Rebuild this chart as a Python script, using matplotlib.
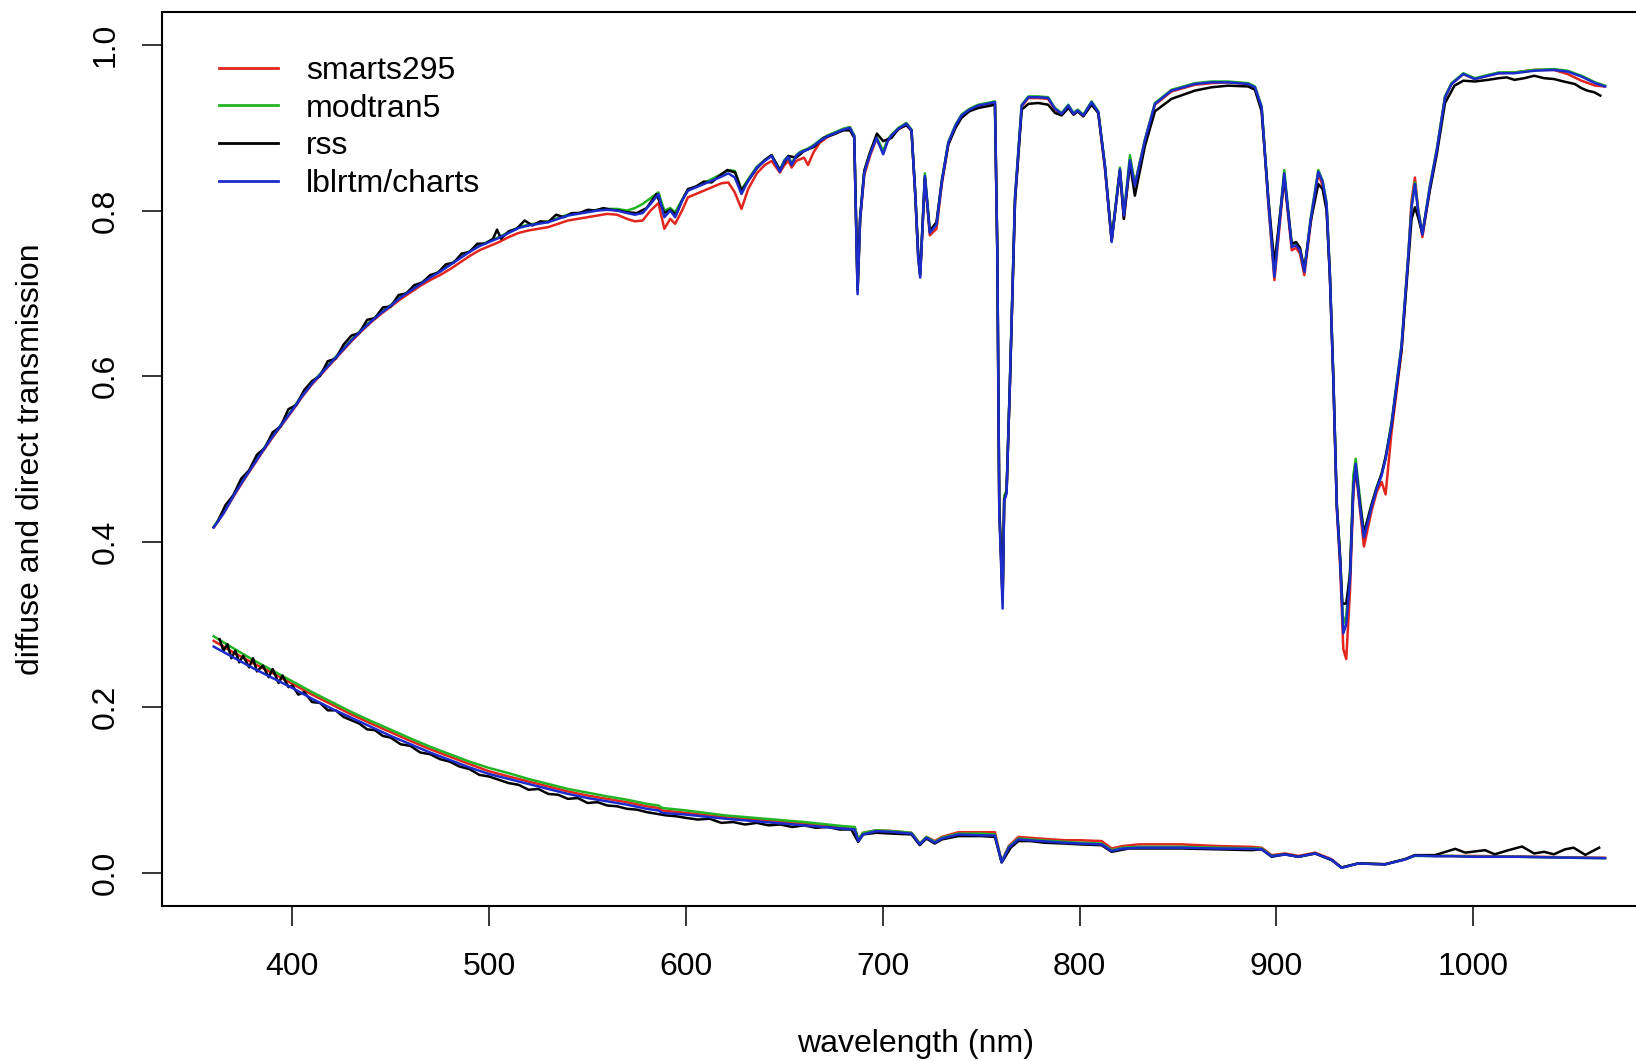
import matplotlib
matplotlib.use("Agg")
import matplotlib.pyplot as plt

plt.rcParams['font.family'] = ['Liberation Sans', 'DejaVu Sans']

# ---------------- upper curves (direct + diffuse) ----------------
wl_up = [360, 365, 370, 375, 380, 385, 390, 395, 400, 405, 410, 415, 420, 425, 430, 435, 440,
         445, 450, 455, 460, 465, 470, 475, 480, 485, 490, 495, 500, 505, 510, 515, 520, 525,
         530, 535, 540, 545, 550, 555, 560,
         565, 570, 574, 578, 582, 586, 589, 592, 594.5, 598, 601, 607, 613, 618, 621.5, 624.8,
         628.2, 631.6, 636, 640, 643.5, 647.7, 650, 652, 653.7, 656, 658, 660, 662, 664.7, 668,
         672, 676, 680, 683.3,
         685.5, 687.2, 688.5, 690.6, 693.5, 696.8, 700.2, 702.5, 704.5, 708, 712, 714.6, 716.5,
         718, 719, 721.4, 723.9, 727.3, 730, 733.3, 737, 740, 744, 748.5, 753, 757,
         758.2, 759.2, 760.9, 761.7, 762.9, 764.6, 767.2, 770.6, 774, 779, 784, 787.5, 790.9,
         794.3, 796.9, 799, 801.9, 806.1, 809.5, 812.9, 816.3, 820.5, 822.5, 825.6, 828.1, 833.2,
         838.3, 846.7, 858.6, 867, 875.5, 885.7, 889.1,
         892.5, 895.9, 899, 904, 907.8, 910, 912, 914.2, 917.5, 921.3, 923.5, 925.5, 927.2, 929,
         930.7, 932.4, 934, 935.5, 937.4, 939.1, 940.3, 942.5, 944.5, 948.4, 951, 953.5, 955.5,
         958.5, 963.6, 967, 968.7, 970.4, 972, 974.2, 978.1, 981.5, 985.7, 989, 995, 1000.8,
         1007.6, 1013, 1021, 1031, 1041, 1048, 1055, 1062, 1067]

up_lblrtm = [.417, .434, .455, .474, .492, .510, .527, .543, .559, .576, .591, .604, .617, .630,
             .643, .655, .666, .676, .685, .695, .703, .711, .719, .726, .734, .742, .750, .757,
             .762, .767, .773, .779, .782, .784, .786, .790, .794, .796, .798, .800, .801,
             .800, .797, .795, .797, .808, .820, .792, .800, .792, .812, .824, .830, .836, .841,
             .845, .840, .820, .836, .852, .860, .866, .847, .860, .865, .855, .866, .870, .872,
             .874, .878, .884, .890, .894, .898, .900,
             .890, .699, .790, .846, .868, .888, .868, .884, .891, .899, .905, .897, .820, .744,
             .719, .842, .773, .783, .835, .882, .903, .915, .922, .927, .929, .931,
             .750, .435, .319, .449, .458, .592, .815, .927, .937, .937, .936, .923, .917, .927,
             .917, .921, .915, .931, .919, .853, .762, .850, .794, .861, .830, .885, .929, .945,
             .953, .955, .955, .953, .949,
             .925, .812, .720, .845, .756, .758, .752, .726, .790, .847, .835, .808, .722, .593,
             .442, .377, .289, .300, .355, .464, .494, .442, .405, .442, .464, .480, .500, .541,
             .636, .744, .804, .832, .800, .771, .830, .873, .937, .953, .965, .959, .963, .966,
             .966, .969, .970, .968, .962, .954, .950]

up_smarts = [.417, .434, .454, .473, .491, .509, .526, .542, .558, .575, .590, .603, .616, .629,
             .642, .654, .665, .675, .684, .693, .701, .709, .716, .722, .729, .737, .745, .752,
             .757, .762, .768, .773, .776, .778, .780, .784, .788, .790, .792, .794, .796,
             .795, .790, .787, .788, .800, .809, .778, .790, .784, .800, .816, .822, .828, .833,
             .834, .822, .802, .826, .845, .855, .860, .846, .855, .860, .852, .860, .862, .864,
             .855, .870, .882, .889, .894, .898, .900,
             .890, .703, .788, .843, .866, .887, .870, .884, .890, .898, .904, .896, .818, .742,
             .722, .838, .770, .778, .832, .880, .902, .914, .921, .926, .928, .930,
             .748, .440, .330, .452, .460, .590, .812, .926, .936, .936, .935, .922, .916, .926,
             .916, .920, .914, .930, .918, .850, .764, .848, .790, .858, .832, .884, .928, .944,
             .952, .954, .955, .953, .949,
             .924, .808, .716, .840, .752, .755, .748, .722, .786, .845, .830, .805, .720, .590,
             .440, .370, .270, .258, .340, .460, .488, .438, .394, .4375, .460, .472, .457, .532,
             .630, .744, .812, .840, .802, .768, .828, .872, .937, .953, .965, .959, .963, .966,
             .967, .970, .970, .965, .957, .951, .950]

up_modtran = [.418, .435, .456, .475, .493, .511, .528, .544, .560, .577, .592, .605, .618, .631,
              .644, .656, .667, .677, .686, .696, .704, .712, .720, .727, .735, .743, .751, .758,
              .763, .768, .774, .780, .783, .785, .787, .791, .795, .797, .799, .801, .802,
              .802, .800, .803, .808, .815, .822, .800, .803, .798, .813, .825, .831, .838, .844,
              .849, .848, .825, .838, .853, .861, .867, .849, .861, .866, .857, .867, .871, .873,
              .875, .879, .885, .891, .895, .899, .901,
              .891, .705, .792, .848, .870, .889, .872, .886, .892, .900, .906, .898, .822, .746,
              .724, .845, .776, .785, .837, .883, .904, .916, .923, .928, .930, .932,
              .752, .445, .335, .455, .462, .595, .818, .928, .938, .938, .937, .924, .918, .928,
              .918, .922, .916, .932, .920, .855, .765, .852, .796, .867, .832, .886, .930, .946,
              .954, .956, .956, .954, .950,
              .926, .814, .724, .849, .758, .760, .754, .728, .792, .849, .836, .810, .724, .596,
              .446, .382, .300, .310, .365, .480, .500, .452, .410, .445, .466, .482, .502, .544,
              .638, .746, .806, .834, .802, .772, .832, .874, .938, .954, .966, .960, .964, .967,
              .967, .970, .971, .969, .963, .955, .951]

wl_up_rss = [362, 366, 370, 374, 378, 382, 386, 390, 394, 398, 402, 406, 410, 414, 418, 422, 426,
             430, 434, 438, 442, 446, 450, 454, 458, 462, 466, 470, 474, 478, 482, 486, 490, 494,
             498, 502, 504, 506, 510, 514, 518, 522, 526, 530, 534, 538, 542, 546, 550, 554, 558,
             562, 566, 570, 575, 580, 585, 589, 592, 595, 598, 601, 605, 609, 613, 617, 621, 625,
             628.2, 631.6, 636, 640, 643.5, 647.7, 652, 656, 660, 665, 670, 675, 680, 683.3, 685.5,
             687.2, 688.5, 690.6, 693.5, 697, 700.2, 704.5, 708, 712, 714.6, 716.5, 718, 719,
             721.4, 723.9, 727.3, 730, 733.3, 737, 740, 744, 748.5, 753, 757, 758.2, 759.2, 760.9,
             761.7, 762.9, 764.6, 767.2, 770.6, 774, 779, 784, 787.5, 790.9, 794.3, 796.9, 799,
             801.9, 806.1, 809.5, 812.9, 816.3, 820.5, 822.5, 825.6, 828.1, 833.2, 838.3, 846.7,
             858.6, 867, 875.5, 885.7, 889.1, 892.5, 895.9, 899, 904, 907.8, 910, 912, 914.2,
             917.5, 921.3, 923.5, 925.5, 927.2, 929, 930.7, 932.4, 933.5, 935.5, 937.4, 939.1,
             940.3, 942.5, 944.5, 948.4, 951, 953.5, 955.5, 958.5, 963.6, 967, 968.7, 970.4, 972,
             974.2, 978.1, 981.5, 985.7, 990.5, 995, 1000.8, 1007.6, 1013, 1017, 1021, 1026, 1031,
             1036, 1041, 1046, 1051.6, 1055, 1058, 1061.5, 1064.6]

up_rss = [.424, .444, .456, .476, .486, .505, .513, .532, .539, .560, .565, .583, .594, .600,
          .618, .621, .638, .649, .652, .668, .670, .683, .684, .698, .700, .710, .713, .722,
          .725, .735, .737, .748, .750, .760, .760, .766, .777, .766, .775, .778, .788, .782,
          .787, .786, .795, .792, .797, .797, .801, .800, .803,
          .801, .800, .798, .797, .803, .820, .797, .801, .795, .812, .826, .829, .835, .834,
          .842, .849, .846, .824, .836, .851, .861, .867, .849, .866, .864, .872, .877, .888,
          .892, .897, .897, .888, .705, .792, .848, .870, .893, .884, .888, .899, .903, .897,
          .820, .748, .722, .840, .775, .786, .835, .880, .900, .912, .920, .924, .926, .928,
          .750, .440, .330, .450, .460, .590, .812, .922, .929, .930, .928, .918, .915, .924,
          .916, .920, .914, .928, .918, .853, .764, .848, .790, .857, .818, .878, .920, .935,
          .945, .949, .951, .950, .946, .920, .815, .735, .840, .760, .762, .755, .728, .788,
          .832, .826, .800, .720, .593, .445, .380, .325, .325, .360, .465, .490, .445, .410,
          .445, .465, .482, .502, .540, .632, .738, .790, .804, .792, .772, .826, .868, .930,
          .951, .957, .956, .958, .960, .961, .958, .960, .963, .960, .959, .956, .953, .948,
          .945, .943, .939]

# ---------------- lower curves (diffuse) ----------------
wl_lo = [360, 370, 380, 390, 400, 410, 420, 430, 440, 450, 460, 470, 480, 490, 500, 510, 520,
         530, 540, 550, 560, 570, 580, 586, 588, 600, 620, 640, 660, 680, 685.8, 687.5, 690,
         696.8, 705, 714.6, 718.8, 722.2, 726.4, 730, 738.4, 750, 757, 760.4, 764, 768.9, 780,
         792.5, 800, 811.2, 816.3, 822, 830, 838.3, 851.8, 870, 887.4, 892.5, 897.6, 904.4,
         911.2, 919.7, 928.1, 933.1, 941.6, 955.2, 965.3, 970.4, 980.6, 989.1, 1000, 1023,
         1045, 1067]

lo_lblrtm = [.273, .260, .247, .235, .223, .210, .198, .187, .176, .165, .155, .145, .136, .127,
             .119, .113, .107, .101, .095, .090, .086, .082, .077, .075, .072, .070, .065, .061,
             .057, .053, .052, .038, .046, .050, .049, .047, .034, .042, .036, .041, .046, .045,
             .0447, .0125, .030, .040, .038, .036, .035, .034, .026, .029, .030, .030, .030, .029,
             .0286, .028, .0197, .0217, .019, .023, .0153, .0056, .0109, .0097, .0157, .0205,
             .0197, .0197, .019, .019, .018, .0173]

lo_smarts = [.280, .266, .253, .241, .228, .215, .203, .191, .180, .1695, .159, .149, .140, .131,
             .1223, .116, .110, .104, .098, .093, .089, .085, .080, .078, .075, .072, .067, .063,
             .059, .055, .054, .040, .048, .051, .050, .048, .035, .043, .038, .043, .0487, .0487,
             .0487, .013, .032, .043, .041, .039, .039, .038, .029, .032, .034, .034, .034, .032,
             .031, .030, .021, .023, .020, .024, .016, .006, .011, .010, .016, .021, .020, .020,
             .020, .0195, .0185, .0178]

lo_modtran = [.2855, .271, .257, .244, .231, .218, .206, .194, .183, .1726, .162, .152, .143,
              .134, .1263, .120, .113, .107, .101, .0965, .092, .088, .083, .081, .078, .075,
              .069, .065, .061, .056, .055, .040, .048, .051, .050, .048, .035, .043, .037, .042,
              .047, .047, .046, .013, .031, .041, .039, .037, .036, .035, .027, .030, .031, .031,
              .031, .030, .029, .029, .020, .022, .019, .023, .015, .006, .011, .010, .016, .020,
              .020, .020, .019, .019, .018, .0173]

wl_lo_rss = [363, 365, 367, 369, 371, 373, 375, 378, 380, 382, 385, 388, 390, 393, 395, 398, 400,
             403, 406, 410, 414, 418, 422, 426, 430, 434, 438, 442, 446, 450, 455, 460, 465, 470,
             475, 480, 485, 490, 495, 500, 505, 510, 515, 520, 525, 530, 535, 540, 545, 550, 555,
             560, 565, 570, 575, 580, 585, 590, 595, 600, 606, 612, 618, 624, 630, 636, 642, 648,
             654, 660, 666, 672, 678, 684, 687.5, 690, 696.8, 705, 714.6, 718.8, 722.2, 726.4,
             730, 738.4, 750, 757, 760.4, 765, 768.9, 775, 782, 792.5, 800, 811.2, 816.3, 825,
             838.3, 851.8, 870, 887.4, 892.5, 897.6, 904.4, 911.2, 919.7, 928.1, 933.1, 941.6,
             955.2, 965.3, 970.4, 980.6, 990.9, 996, 1006, 1011, 1018, 1024.8, 1031, 1036, 1041,
             1046.7, 1051, 1057, 1064]

lo_rss = [.282, .268, .276, .259, .268, .254, .262, .248, .259, .243, .250, .236, .246, .229,
          .238, .224, .226, .215, .218, .206, .205, .196, .196, .188, .184, .180, .173, .172,
          .165, .163, .155, .153, .145, .143, .137, .134, .128, .125, .118, .116, .112, .108,
          .106, .100, .101, .095, .094, .089, .090, .084, .085, .081, .080, .077, .076, .073,
          .071, .069, .068, .066, .064, .065, .060, .061, .058, .060, .057, .058, .055, .057,
          .054, .055, .052, .052, .037, .046, .048, .047, .046, .033, .041, .035, .040, .044,
          .044, .043, .012, .030, .038, .038, .036, .035, .034, .033, .025, .029, .029, .029,
          .028, .027, .028, .019, .022, .019, .023, .015, .006, .011, .010, .016, .021, .021,
          .0286, .024, .027, .022, .027, .0314, .023, .025, .022, .028, .030, .0213, .030]

series_names = ['smarts295', 'modtran5', 'rss', 'lblrtm/charts']
series_colors = ['#E2261D', '#22B523', '#000000', '#1B2CCB']

x_ticks = [400, 500, 600, 700, 800, 900, 1000]
y_ticks = [0.0, 0.2, 0.4, 0.6, 0.8, 1.0]
y_tick_labels = ['0.0', '0.2', '0.4', '0.6', '0.8', '1.0']

# ---------------- figure ----------------
W, H = 1636, 1061
fig = plt.figure(figsize=(W / 100, H / 100), dpi=100)
left_px, top_px, bottom_px = 161.7, 12.0, 905.6
xmin, xmax = 333.6, 1100.0
px_per_nm = 1.968
ax_w = (xmax - xmin) * px_per_nm
ax = fig.add_axes([left_px / W, (H - bottom_px) / H, ax_w / W, (bottom_px - top_px) / H])
ax.set_xlim(xmin, xmax)
ax.set_ylim(-0.04, 1.04)

lw = 1.8
upper = [(wl_up, up_smarts), (wl_up, up_modtran), (wl_up_rss, up_rss), (wl_up, up_lblrtm)]
lower = [(wl_lo, lo_smarts), (wl_lo, lo_modtran), (wl_lo_rss, lo_rss), (wl_lo, lo_lblrtm)]
handles = []
for (xu, yu), (xl, yl), name, col in zip(upper, lower, series_names, series_colors):
    h, = ax.plot(xu, yu, color=col, lw=lw, label=name, solid_joinstyle='round')
    ax.plot(xl, yl, color=col, lw=lw, solid_joinstyle='round')
    handles.append(h)

for s in ax.spines.values():
    s.set_linewidth(1.5)
ax.spines['right'].set_visible(False)

fs = 23
ax.set_xticks(x_ticks)
ax.set_xticklabels([str(t) for t in x_ticks], fontsize=fs)
ax.set_yticks(y_ticks)
ax.set_yticklabels(y_tick_labels, fontsize=fs, rotation=90, va='center')
ax.tick_params(axis='both', direction='out', length=14.4, width=1.1, color='black')
ax.tick_params(axis='x', pad=19)
ax.tick_params(axis='y', pad=15)

ax.set_xlabel('wavelength (nm)', fontsize=fs)
ax.xaxis.set_label_coords(0.5, (bottom_px - 1044) / (bottom_px - top_px))
ax.xaxis.label.set_va('center')
ax.set_ylabel('diffuse and direct transmission', fontsize=fs)
ax.yaxis.set_label_coords((31 - left_px) / ax_w, 0.5)
ax.yaxis.label.set_va('center')

leg = ax.legend(handles=handles, loc='upper left',
                bbox_to_anchor=(219 / W, 1 - 56 / H), bbox_transform=fig.transFigure,
                frameon=False, fontsize=fs, handlelength=1.85, handletextpad=0.88,
                labelspacing=0.24, borderpad=0, borderaxespad=0)
for line in leg.get_lines():
    line.set_linewidth(2.0)

fig.savefig('out.png', dpi=100)
